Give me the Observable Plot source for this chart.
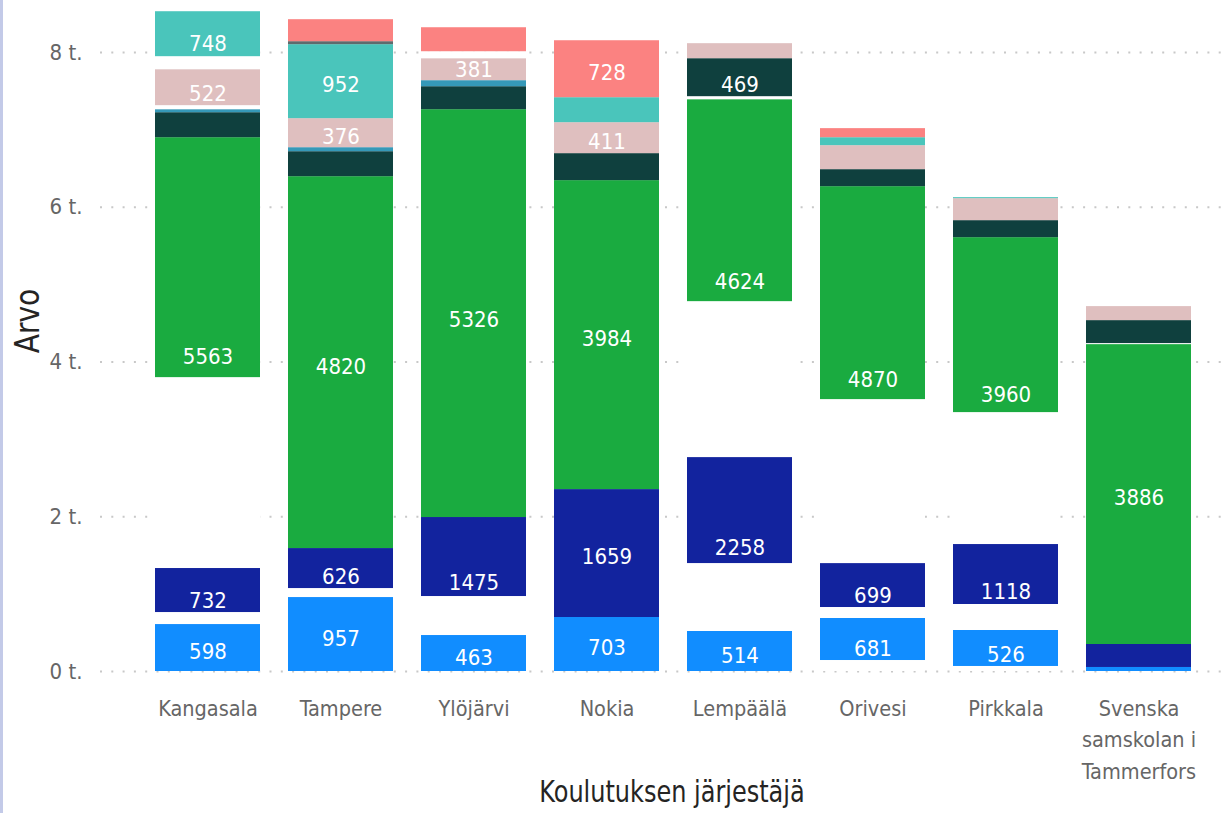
<!DOCTYPE html>
<html>
<head>
<meta charset="utf-8">
<script src="https://cdn.jsdelivr.net/npm/d3@7"></script>
<script src="https://cdn.jsdelivr.net/npm/@observablehq/plot@0.6"></script>
<style>
  body { margin: 0; background: #fff; }
  #wrap { position: relative; width: 1225px; height: 813px; overflow: hidden; }
  #edge { position: absolute; left: 0; top: 0; width: 3px; height: 813px; background: #C3CAE8; }
  .ttl { position: absolute; font-family: "Liberation Sans Narrow", "DejaVu Sans Condensed", "Arial Narrow", sans-serif;
         color: #252423; line-height: 1; white-space: nowrap; }
  #xtitle { left: 472px; width: 400px; text-align: center; top: 776px; font-size: 31px; transform: scaleX(0.86); }
  #ytitle { left: 27px; top: 321px; font-size: 34px; transform: translate(-50%, -50%) rotate(-90deg) scaleX(0.92); }
</style>
</head>
<body>
<div id="wrap">
  <div id="chart"></div>
  <div id="edge"></div>
  <div id="xtitle" class="ttl">Koulutuksen järjestäjä</div>
  <div id="ytitle" class="ttl">Arvo</div>
</div>
<script>
// ---------- data ----------
const categories = ["Kangasala", "Tampere", "Ylöjärvi", "Nokia", "Lempäälä", "Orivesi", "Pirkkala", "Svenska samskolan i Tammerfors"];
const xTickLabels = ["Kangasala", "Tampere", "Ylöjärvi", "Nokia", "Lempäälä", "Orivesi", "Pirkkala", "Svenska\nsamskolan i\nTammerfors"];
const yTicks = [0, 2000, 4000, 6000, 8000];
const yTickLabels = ["0 t.", "2 t.", "4 t.", "6 t.", "8 t."];

const seriesNames = ["Sarja 1", "Sarja 2", "Sarja 3", "Sarja 4", "Sarja 5", "Sarja 6", "Sarja 7", "Sarja 8", "Sarja 9"];
const seriesColors = ["#118DFF", "#12239E", "#1AAB40", "#0F403E", "#3599B8", "#DFBFBF", "#4AC5BB", "#5F6B6D", "#FB8281"];

// values of each series (data labels; unlabelled ones estimated)
const value1 = [598, 957, 463, 703, 514, 681, 526, 52];
const value2 = [732, 626, 1475, 1659, 2258, 699, 1118, 297];
const value3 = [5563, 4820, 5326, 3984, 4624, 4870, 3960, 3886];
const value4 = [329, 323, 297, 349, 469, 220, 220, 310];
const value5 = [39, 52, 78, 0, 0, 0, 0, 0];
const value6 = [522, 376, 381, 411, 249, 310, 284, 181];
const value7 = [748, 952, 0, 323, 0, 103, 13, 0];
const value8 = [0, 39, 0, 0, 0, 0, 0, 0];
const value9 = [0, 284, 310, 728, 0, 117, 0, 0];

// which values carry a visible data label
const labelled1 = [1, 1, 1, 1, 1, 1, 1, 0];
const labelled2 = [1, 1, 1, 1, 1, 1, 1, 0];
const labelled3 = [1, 1, 1, 1, 1, 1, 1, 1];
const labelled4 = [0, 0, 0, 0, 1, 0, 0, 0];
const labelled5 = [0, 0, 0, 0, 0, 0, 0, 0];
const labelled6 = [1, 1, 1, 1, 0, 0, 0, 0];
const labelled7 = [1, 1, 0, 0, 0, 0, 0, 0];
const labelled8 = [0, 0, 0, 0, 0, 0, 0, 0];
const labelled9 = [0, 0, 0, 1, 0, 0, 0, 0];

// visible (drawn) part of each segment and the white gaps between them
const gapBottom = [0, 0, 0, 0, 0, 142, 65, 0];
const shown1 = [607, 956, 465, 698, 517, 543, 465, 52];
const gap12 = [155, 116, 504, 0, 878, 142, 336, 0];
const shown2 = [569, 517, 1021, 1653, 1370, 568, 775, 297];
const gap23 = [2467, 0, 0, 0, 2015, 2119, 1705, 0];
const shown3 = [3101, 4806, 5271, 3993, 2610, 2752, 2261, 3876];
const gap34 = [0, 0, 0, 0, 39, 0, 0, 13];
const shown4 = [323, 323, 297, 349, 491, 220, 220, 297];
const shown5 = [39, 52, 78, 0, 0, 0, 0, 0];
const gap56 = [52, 0, 0, 0, 0, 0, 0, 0];
const shown6 = [465, 375, 284, 400, 194, 310, 284, 181];
const gap67 = [168, 0, 90, 0, 0, 0, 0, 0];
const shown7 = [581, 956, 0, 323, 0, 103, 13, 0];
const shown8 = [0, 39, 0, 0, 0, 0, 0, 0];
const shown9 = [0, 284, 310, 736, 0, 117, 0, 0];

// ---------- build tables ----------
const GAP = "#FFFFFF";
const pieces = [
  ["gap0", GAP, gapBottom],
  [seriesNames[0], seriesColors[0], shown1],
  ["gap1", GAP, gap12],
  [seriesNames[1], seriesColors[1], shown2],
  ["gap2", GAP, gap23],
  [seriesNames[2], seriesColors[2], shown3],
  ["gap3", GAP, gap34],
  [seriesNames[3], seriesColors[3], shown4],
  [seriesNames[4], seriesColors[4], shown5],
  ["gap5", GAP, gap56],
  [seriesNames[5], seriesColors[5], shown6],
  ["gap6", GAP, gap67],
  [seriesNames[6], seriesColors[6], shown7],
  [seriesNames[7], seriesColors[7], shown8],
  [seriesNames[8], seriesColors[8], shown9]
];
const barRows = [];
pieces.forEach(([key, color, arr]) => categories.forEach((c, i) => barRows.push({cat: c, piece: key, color, h: arr[i]})));

const values = [value1, value2, value3, value4, value5, value6, value7, value8, value9];
const labelled = [labelled1, labelled2, labelled3, labelled4, labelled5, labelled6, labelled7, labelled8, labelled9];
const labelRows = [];
values.forEach((arr, s) => categories.forEach((c, i) => labelRows.push({
  cat: c, series: seriesNames[s], value: arr[i], label: labelled[s][i] ? String(arr[i]) : null
})));

const FONT = '"Liberation Sans Narrow", "DejaVu Sans Condensed", "Arial Narrow", sans-serif';

const chart = Plot.plot({
  width: 1225,
  height: 813,
  marginLeft: 100,
  marginRight: 0,
  marginTop: 52,
  marginBottom: 142,
  style: {fontFamily: FONT, background: "transparent", overflow: "visible"},
  x: {domain: categories, paddingInner: 0.21, paddingOuter: 0.331, align: 0.614, label: null},
  y: {domain: [0, 8000], label: null},
  color: {type: "identity"},
  marks: [
    Plot.ruleY(yTicks, {stroke: "#C8C8C8", strokeWidth: 2, strokeDasharray: "2,9.3"}),
    Plot.barY(barRows, Plot.stackY({x: "cat", y: "h", z: "piece", fill: "color", order: null})),
    Plot.text(labelRows, Plot.stackY({
      x: "cat", y: "value", z: "series", order: null, text: "label",
      fill: "white", fontSize: 22, fontFamily: FONT, dy: 4
    })),
    Plot.axisX({
      tickSize: 0, tickPadding: 22, fontSize: 21.5, fill: "#666", lineHeight: 1.46, label: null,
      tickFormat: d => xTickLabels[categories.indexOf(d)]
    }),
    Plot.axisY({
      ticks: yTicks, tickSize: 0, tickPadding: 18, fontSize: 22, fill: "#666", label: null,
      tickFormat: d => yTickLabels[yTicks.indexOf(d)]
    })
  ]
});
document.getElementById("chart").appendChild(chart);
</script>
</body>
</html>
